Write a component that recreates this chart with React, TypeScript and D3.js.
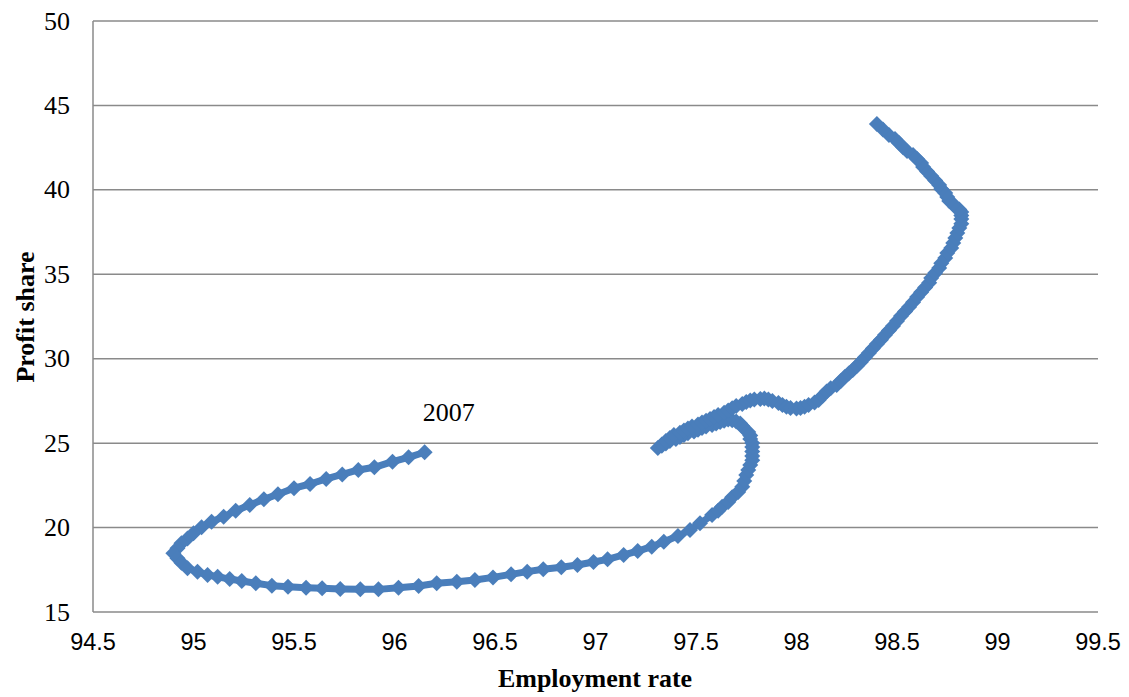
import * as d3 from 'd3';
import React from "react";

// employment rate (x) and profit share (y), starting at the 2007 point
const employment = [
    // upper arc from 2007, left loop and the bottom
    96.15, 96.07, 95.99, 95.90, 95.82, 95.74, 95.66, 95.58, 95.50, 95.42,
    95.35, 95.28, 95.21, 95.15, 95.09, 95.04, 95.00, 94.97, 94.94, 94.92,
    94.90, 94.92, 94.94, 94.97, 95.02, 95.07, 95.12, 95.18, 95.24, 95.31,
    95.39, 95.47, 95.56, 95.64, 95.73, 95.83, 95.92, 96.02, 96.12, 96.21,
    96.31, 96.40, 96.49, 96.58, 96.66, 96.74, 96.83, 96.91, 96.99, 97.06,
    97.14, 97.21, 97.28, 97.34, 97.41, 97.47, 97.52,
    // rise and hook
    97.58, 97.61, 97.63, 97.66, 97.68, 97.71, 97.73, 97.74, 97.75, 97.76,
    97.77, 97.78, 97.78, 97.78, 97.78, 97.78, 97.77, 97.77, 97.76, 97.74,
    97.73, 97.72, 97.70, 97.68, 97.66,
    // run down to the left end
    97.64, 97.62, 97.60, 97.58, 97.55, 97.53, 97.51, 97.49, 97.46, 97.44,
    97.42, 97.40, 97.37, 97.35, 97.33, 97.31,
    // back up, bump and dip
    97.33, 97.35, 97.37, 97.39, 97.42, 97.44, 97.46, 97.48, 97.51, 97.53,
    97.55, 97.57, 97.59, 97.61, 97.64, 97.66, 97.68, 97.70, 97.73, 97.75,
    97.77, 97.79, 97.82, 97.84, 97.86, 97.88, 97.91, 97.93, 97.95, 97.97,
    98.00, 98.02, 98.04, 98.06, 98.09, 98.11, 98.13,
    // right arm to the top
    98.15, 98.17, 98.20, 98.22, 98.24, 98.26, 98.28, 98.30, 98.32, 98.34,
    98.36, 98.38, 98.40, 98.42, 98.44, 98.46, 98.48, 98.50, 98.52, 98.54,
    98.56, 98.58, 98.60, 98.62, 98.64, 98.66, 98.67, 98.69, 98.71, 98.72,
    98.74, 98.75, 98.77, 98.78, 98.79, 98.80, 98.81, 98.82, 98.82, 98.82,
    98.82, 98.81, 98.79, 98.78, 98.76, 98.75, 98.74, 98.72, 98.71, 98.69,
    98.67, 98.65, 98.63, 98.62, 98.60, 98.58, 98.55, 98.53, 98.51, 98.49,
    98.46, 98.43, 98.40,
];

const profitShare = [
    24.46, 24.16, 23.90, 23.57, 23.41, 23.15, 22.88, 22.58, 22.33, 21.97,
    21.67, 21.34, 21.00, 20.64, 20.35, 20.02, 19.66, 19.36, 19.07, 18.77,
    18.48, 18.18, 17.92, 17.59, 17.39, 17.19, 17.09, 16.95, 16.84, 16.70,
    16.56, 16.50, 16.44, 16.40, 16.36, 16.34, 16.34, 16.44, 16.54, 16.70,
    16.79, 16.90, 17.05, 17.23, 17.39, 17.53, 17.65, 17.78, 17.96, 18.12,
    18.38, 18.61, 18.87, 19.16, 19.50, 19.86, 20.25,
    20.74, 20.99, 21.24, 21.51, 21.79, 22.10, 22.42, 22.76, 23.11, 23.41,
    23.71, 23.98, 24.24, 24.51, 24.77, 25.01, 25.25, 25.46, 25.66, 25.85,
    26.02, 26.16, 26.28, 26.35, 26.40,
    26.33, 26.25, 26.16, 26.07, 25.99, 25.90, 25.80, 25.69, 25.59, 25.48,
    25.37, 25.25, 25.12, 24.98, 24.85, 24.71,
    24.92, 25.13, 25.31, 25.48, 25.62, 25.75, 25.87, 25.99, 26.11, 26.22,
    26.33, 26.43, 26.55, 26.67, 26.80, 26.93, 27.07, 27.20, 27.32, 27.44,
    27.52, 27.58, 27.62, 27.64, 27.58, 27.50, 27.38, 27.26, 27.16, 27.08,
    27.05, 27.08, 27.16, 27.26, 27.40, 27.55, 27.80,
    28.06, 28.25, 28.44, 28.68, 28.92, 29.12, 29.33, 29.57, 29.81, 30.07,
    30.34, 30.60, 30.87, 31.13, 31.40, 31.67, 31.94, 32.23, 32.53, 32.80,
    33.06, 33.35, 33.65, 33.93, 34.22, 34.50, 34.78, 35.07, 35.37, 35.66,
    35.96, 36.26, 36.56, 36.85, 37.15, 37.44, 37.74, 38.00, 38.27, 38.48,
    38.69, 38.84, 38.98, 39.16, 39.34, 39.57, 39.81, 40.05, 40.29, 40.55,
    40.82, 41.08, 41.35, 41.59, 41.83, 42.06, 42.30, 42.53, 42.77, 43.01,
    43.25, 43.57, 43.90,
];

const xTicks = [94.5, 95, 95.5, 96, 96.5, 97, 97.5, 98, 98.5, 99, 99.5];
const yTicks = [15, 20, 25, 30, 35, 40, 45, 50];
const startLabel = "2007";

const width = 1129;
const height = 697;
const margin = { top: 21, right: 31, bottom: 85, left: 93 };
const blue = "#4A7EBB";
const grid = "#8a8a8a";
const serif = "'Liberation Serif', 'Times New Roman', serif";
const r = 8; // half diagonal of the diamond marker

const App: React.FC = () => {
    const x = d3.scaleLinear()
        .domain([94.5, 99.5])
        .range([margin.left, width - margin.right]);
    const y = d3.scaleLinear()
        .domain([15, 50])
        .range([height - margin.bottom, margin.top]);

    const n = Math.min(employment.length, profitShare.length);
    const points: [number, number][] = employment.slice(0, n).map((e, i) => [e, profitShare[i]]);
    const line = d3.line<[number, number]>()
        .x(d => x(d[0]))
        .y(d => y(d[1]));
    const diamond = `M0,${-r}L${r},0L0,${r}L${-r},0Z`;

    return (
        <svg width={width} height={height} style={{ position: 'absolute', left: 0, top: 0, background: '#fff' }}>
            {yTicks.map(t => (
                <line key={'g' + t} x1={x(94.5)} x2={x(99.5)} y1={y(t)} y2={y(t)}
                    stroke={grid} strokeWidth={1.5} />
            ))}
            <line x1={x(94.5)} x2={x(94.5)} y1={y(50)} y2={y(15)} stroke={grid} strokeWidth={1.5} />

            {yTicks.map(t => (
                <text key={'y' + t} x={70} y={y(t)} dy="0.33em" textAnchor="end"
                    fontFamily={serif} fontSize={26} fill="#000">{t}</text>
            ))}
            {xTicks.map(t => (
                <text key={'x' + t} x={x(t)} y={650} textAnchor="middle"
                    fontFamily="'Liberation Sans', Arial, sans-serif" fontSize={23.5} fill="#000">{t}</text>
            ))}

            <path d={line(points) || ''} fill="none" stroke={blue} strokeWidth={7} strokeLinejoin="round" />
            {points.map((p, i) => (
                <path key={i} d={diamond} transform={`translate(${x(p[0])},${y(p[1])})`} fill={blue} />
            ))}

            <text x={x(employment[0]) - 2} y={y(profitShare[0]) - 31}
                fontFamily={serif} fontSize={26} fill="#000">{startLabel}</text>

            <text x={595} y={687} textAnchor="middle" fontWeight="bold"
                fontFamily={serif} fontSize={26} fill="#000">Employment rate</text>
            <text transform={`translate(34, 317) rotate(-90)`} textAnchor="middle" fontWeight="bold"
                fontFamily={serif} fontSize={26} fill="#000">Profit share</text>
        </svg>
    );
};

export default App;
